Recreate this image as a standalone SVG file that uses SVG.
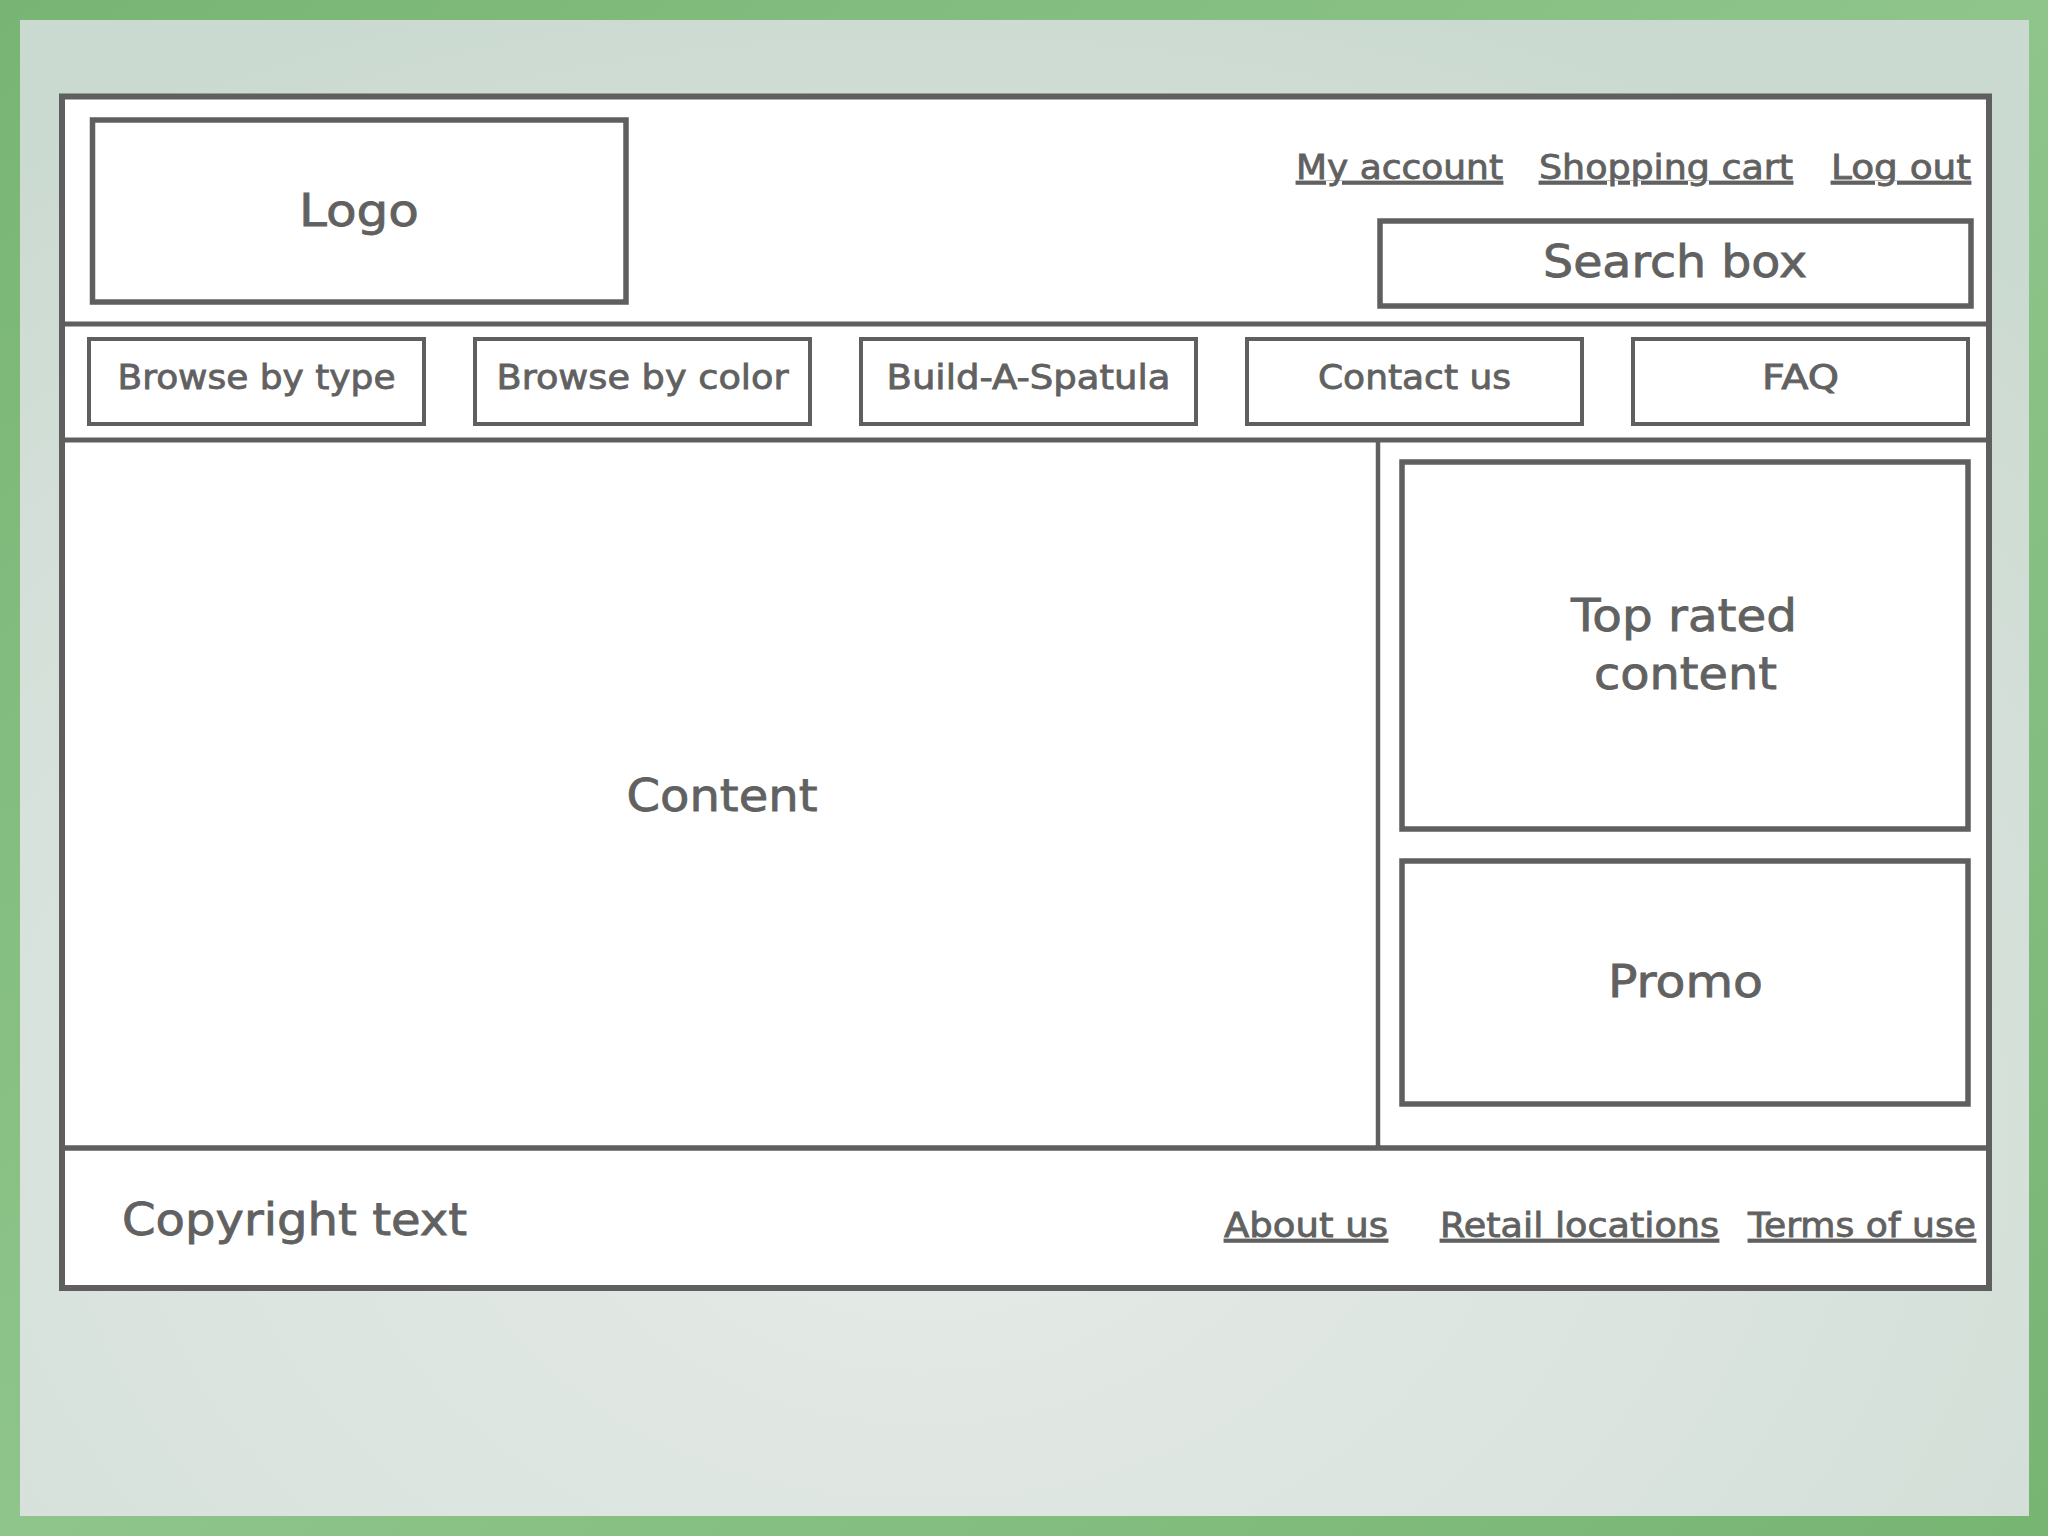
<svg xmlns="http://www.w3.org/2000/svg" width="2048" height="1536" viewBox="0 0 2048 1536">
<defs>
<linearGradient id="green" x1="0" y1="0" x2="1" y2="1">
<stop offset="0" stop-color="#78b574"/>
<stop offset="0.5" stop-color="#8fc58b"/>
<stop offset="1" stop-color="#77b573"/>
</linearGradient>
<radialGradient id="bg" cx="0.45" cy="0.75" r="0.8">
<stop offset="0" stop-color="#e6ebe8"/>
<stop offset="0.6" stop-color="#d8e2dc"/>
<stop offset="1" stop-color="#cbdad1"/>
</radialGradient>
<style>
.ln{fill:none;stroke:#5f5f5f}
.box{fill:#fff;stroke:#5f5f5f;stroke-width:5.5}
.nav{fill:#fff;stroke:#5f5f5f;stroke-width:4}
.t{font-family:"DejaVu Sans","Liberation Sans",sans-serif;fill:#616161;stroke:#616161;stroke-width:0.8}
.big{font-size:45px}
.mid{font-size:44px}
.sm{font-size:33px}
.u{text-decoration:underline}
.c{text-anchor:middle}
</style>
</defs>
<rect x="0" y="0" width="2048" height="1536" fill="url(#green)"/>
<rect x="20" y="20" width="2009" height="1496" fill="url(#bg)"/>
<g id="frame">
<rect x="62" y="96.5" width="1927" height="1191.5" fill="#fff" stroke="#5f5f5f" stroke-width="6"/>
</g>
<g id="connectors">
<line class="ln" x1="62" y1="324" x2="1989" y2="324" stroke-width="5"/>
<line class="ln" x1="62" y1="440" x2="1989" y2="440" stroke-width="5"/>
<line class="ln" x1="62" y1="1148" x2="1989" y2="1148" stroke-width="5.5"/>
<line class="ln" x1="1378" y1="440" x2="1378" y2="1148" stroke-width="4.5"/>
</g>
<g id="logo">
<rect class="box" x="92.5" y="120" width="533.5" height="182"/>
<text class="t big c" x="359" y="226" textLength="120" lengthAdjust="spacingAndGlyphs">Logo</text>
</g>
<g id="header-links">
<text class="t sm u" x="1296" y="179" textLength="207" lengthAdjust="spacingAndGlyphs">My account</text>
<text class="t sm u" x="1539" y="179" textLength="254" lengthAdjust="spacingAndGlyphs">Shopping cart</text>
<text class="t sm u" x="1831" y="179" textLength="140" lengthAdjust="spacingAndGlyphs">Log out</text>
</g>
<g id="search-box">
<rect class="box" x="1380" y="221" width="591" height="85"/>
<text class="t mid c" x="1675" y="277" textLength="264" lengthAdjust="spacingAndGlyphs">Search box</text>
</g>
<g id="nav-type">
<rect class="nav" x="89" y="339" width="335" height="85"/>
<text class="t sm c" x="256.5" y="389" textLength="278" lengthAdjust="spacingAndGlyphs">Browse by type</text>
</g>
<g id="nav-color">
<rect class="nav" x="475" y="339" width="335" height="85"/>
<text class="t sm c" x="642.5" y="389" textLength="292" lengthAdjust="spacingAndGlyphs">Browse by color</text>
</g>
<g id="nav-build">
<rect class="nav" x="861" y="339" width="335" height="85"/>
<text class="t sm c" x="1028.5" y="389" textLength="284" lengthAdjust="spacingAndGlyphs">Build-A-Spatula</text>
</g>
<g id="nav-contact">
<rect class="nav" x="1247" y="339" width="335" height="85"/>
<text class="t sm c" x="1414.5" y="389" textLength="193" lengthAdjust="spacingAndGlyphs">Contact us</text>
</g>
<g id="nav-faq">
<rect class="nav" x="1633" y="339" width="335" height="85"/>
<text class="t sm c" x="1800.5" y="389" textLength="77" lengthAdjust="spacingAndGlyphs">FAQ</text>
</g>
<g id="content">
<text class="t big c" x="722" y="811" textLength="191" lengthAdjust="spacingAndGlyphs">Content</text>
</g>
<g id="top-rated">
<rect class="box" x="1402" y="462" width="566" height="367"/>
<text class="t big c" x="1684" y="631" textLength="226" lengthAdjust="spacingAndGlyphs">Top rated</text>
<text class="t big c" x="1685.5" y="689" textLength="183" lengthAdjust="spacingAndGlyphs">content</text>
</g>
<g id="promo">
<rect class="box" x="1402" y="861" width="566" height="243"/>
<text class="t big c" x="1685.5" y="997" textLength="155" lengthAdjust="spacingAndGlyphs">Promo</text>
</g>
<g id="footer">
<text class="t mid" x="122" y="1235" textLength="345" lengthAdjust="spacingAndGlyphs">Copyright text</text>
<text class="t sm u" x="1224" y="1237" textLength="164" lengthAdjust="spacingAndGlyphs">About us</text>
<text class="t sm u" x="1440" y="1237" textLength="279" lengthAdjust="spacingAndGlyphs">Retail locations</text>
<text class="t sm u" x="1748" y="1237" textLength="228" lengthAdjust="spacingAndGlyphs">Terms of use</text>
</g>
</svg>
